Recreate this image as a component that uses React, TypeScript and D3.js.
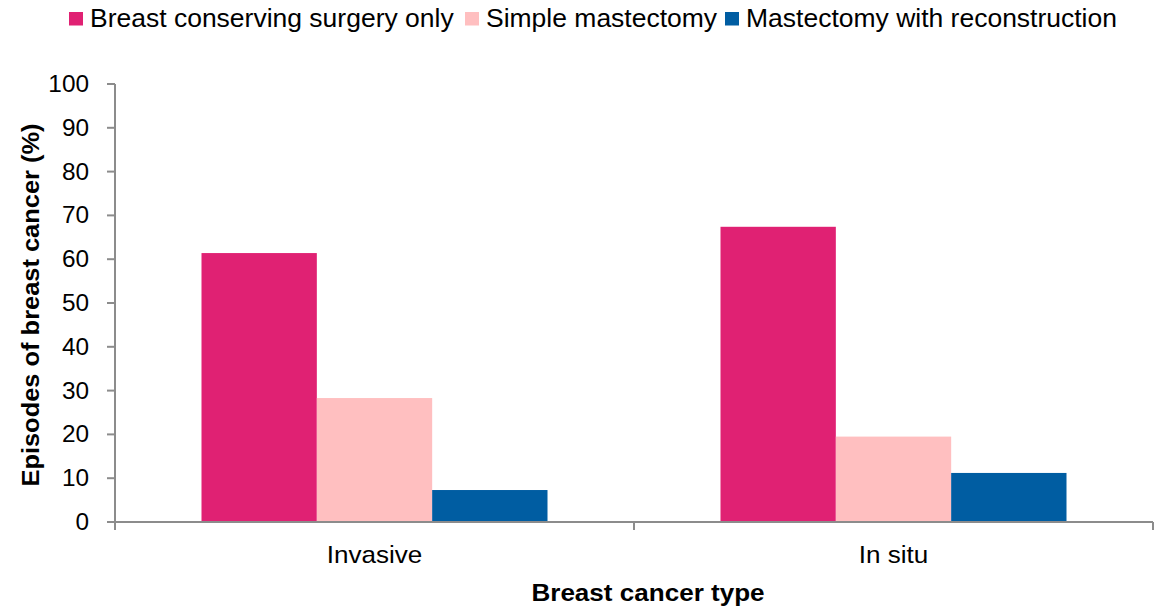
import React from "react";
import * as d3 from "d3";

// Surgery type share by breast cancer type (%)
const categories = ["Invasive", "In situ"];
const seriesNames = [
  "Breast conserving surgery only",
  "Simple mastectomy",
  "Mastectomy with reconstruction",
];
const seriesColors = ["#E02173", "#FFBFC0", "#005DA2"];
const breastConserving = [61.4, 67.4];
const simpleMastectomy = [28.3, 19.5];
const mastectomyReconstruction = [7.3, 11.2];
const yTicks = [0, 10, 20, 30, 40, 50, 60, 70, 80, 90, 100];

const seriesValues = [breastConserving, simpleMastectomy, mastectomyReconstruction];

const W = 1156;
const H = 609;
const margin = { left: 115, right: 3, top: 84, bottom: 87 };
const FONT = "'Liberation Sans', Arial, sans-serif";
const AXIS = "#8C8C8C";
const STRETCH = 1.06;

// Legend layout: swatch left edge for each entry
const legendX = [69, 465, 725];

type TProps = {
  x: number;
  y: number;
  size: number;
  anchor?: "start" | "middle" | "end";
  bold?: boolean;
  rotate?: number;
  dy?: string;
  children: React.ReactNode;
};

// Text drawn slightly wide, as the chart's typeface is
function Label({ x, y, size, anchor = "start", bold, rotate = 0, dy, children }: TProps) {
  return (
    <g transform={`translate(${x},${y}) rotate(${rotate}) scale(${STRETCH},1)`}>
      <text
        textAnchor={anchor}
        fontSize={size}
        fontWeight={bold ? "bold" : "normal"}
        fill="#000"
        dy={dy}
      >
        {children}
      </text>
    </g>
  );
}

export default function App() {
  const plotBottom = H - margin.bottom;
  const x = d3
    .scaleBand<string>()
    .domain(categories)
    .range([margin.left, W - margin.right])
    .paddingInner(0)
    .paddingOuter(0);
  const inner = d3
    .scaleBand<number>()
    .domain(seriesNames.map((_, i) => i))
    .range([0, x.bandwidth()])
    .paddingInner(0)
    .paddingOuter(0.75);
  const y = d3.scaleLinear().domain([0, 100]).range([plotBottom, margin.top]);

  return (
    <svg
      width={W}
      height={H}
      style={{ position: "absolute", left: 0, top: 0, background: "#fff" }}
      fontFamily={FONT}
    >
      {/* legend */}
      {seriesNames.map((name, i) => (
        <g key={name}>
          <rect x={legendX[i]} y={12} width={14} height={13.5} fill={seriesColors[i]} />
          <Label x={legendX[i] + 21} y={26.7} size={25}>
            {name}
          </Label>
        </g>
      ))}

      {/* bars */}
      {categories.map((cat, ci) =>
        seriesValues.map((vals, si) => (
          <rect
            key={cat + si}
            x={(x(cat) as number) + (inner(si) as number)}
            y={y(vals[ci])}
            width={inner.bandwidth()}
            height={plotBottom - y(vals[ci])}
            fill={seriesColors[si]}
          />
        ))
      )}

      {/* y axis */}
      <line x1={margin.left} x2={margin.left} y1={y(100)} y2={plotBottom} stroke={AXIS} strokeWidth={2} />
      {yTicks.map((t) => (
        <g key={t}>
          <line x1={margin.left - 8} x2={margin.left} y1={y(t)} y2={y(t)} stroke={AXIS} strokeWidth={2} />
          <Label x={margin.left - 26} y={y(t)} dy="0.35em" size={23} anchor="end">
            {t}
          </Label>
        </g>
      ))}

      {/* x axis */}
      <line x1={margin.left - 8} x2={W - margin.right} y1={plotBottom} y2={plotBottom} stroke={AXIS} strokeWidth={2} />
      {[...categories.map((c) => x(c) as number), W - margin.right].map((px, i) => (
        <line key={i} x1={px} x2={px} y1={plotBottom} y2={plotBottom + 8} stroke={AXIS} strokeWidth={2} />
      ))}
      {categories.map((c) => (
        <Label key={c} x={(x(c) as number) + x.bandwidth() / 2} y={562.5} size={24.6} anchor="middle">
          {c}
        </Label>
      ))}

      {/* axis titles */}
      <Label x={648} y={600.5} size={24.6} bold anchor="middle">
        Breast cancer type
      </Label>
      <Label x={39} y={(y(100) + plotBottom) / 2 + 2} size={24} bold anchor="middle" rotate={-90}>
        Episodes of breast cancer (%)
      </Label>
    </svg>
  );
}
